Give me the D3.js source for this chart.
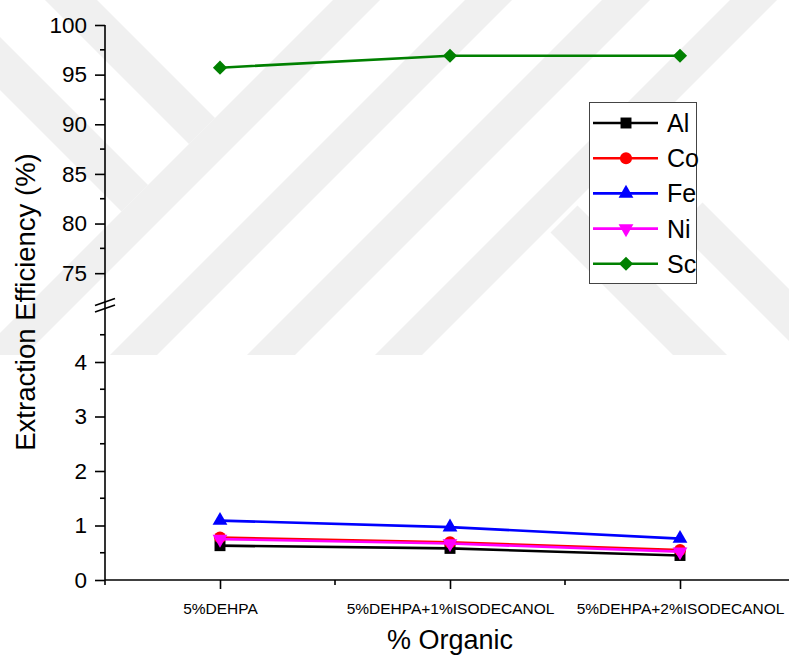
<!DOCTYPE html>
<html>
<head>
<meta charset="utf-8">
<script src="https://cdn.jsdelivr.net/npm/d3@7"></script>
<style>
  html, body { margin: 0; padding: 0; background: #fff; }
  svg { display: block; font-family: Arial, "Liberation Sans", sans-serif; }
</style>
</head>
<body>
<svg id="chart" width="789" height="656"></svg>
<script>
// Extraction efficiency (%) per organic phase composition
const categories = ["5%DEHPA", "5%DEHPA+1%ISODECANOL", "5%DEHPA+2%ISODECANOL"];
const seriesNames = ["Al", "Co", "Fe", "Ni", "Sc"];
const alValues = [0.63, 0.58, 0.45];
const coValues = [0.78, 0.69, 0.55];
const feValues = [1.09, 0.97, 0.76];
const niValues = [0.75, 0.67, 0.52];
const scValues = [95.7, 96.9, 96.9];

const lowTicks = [0, 1, 2, 3, 4];
const highTicks = [75, 80, 85, 90, 95, 100];

const series = [
  { name: seriesNames[0], values: alValues, color: "#000000", symbol: d3.symbolSquare, size: 120, rot: 0, panel: "low" },
  { name: seriesNames[1], values: coValues, color: "#ff0000", symbol: d3.symbolCircle, size: 115, rot: 0, panel: "low" },
  { name: seriesNames[2], values: feValues, color: "#0000ff", symbol: d3.symbolTriangle, size: 95, rot: 0, panel: "low" },
  { name: seriesNames[3], values: niValues, color: "#ff00ff", symbol: d3.symbolTriangle, size: 95, rot: 180, panel: "low" },
  { name: seriesNames[4], values: scValues, color: "#008000", symbol: d3.symbolSquare, size: 100, rot: 45, panel: "high" }
];

const svg = d3.select("#chart");
const W = 789, H = 656;

// faint background emblem made of diagonal bands (u = x + y, v = x - y)
const bands = [
  { u: [333, 380], v: [-2000, 2000] },
  { u: [465, 512], v: [-2000, 2000] },
  { u: [602, 650], v: [-2000, 2000] },
  { u: [730, 777], v: [-2000, 2000] },
  { u: [-2000, 333], v: [45, 97] },
  { u: [-2000, 333], v: [-90, -37] },
  { u: [783, 3000], v: [318, 372] },
  { u: [905, 3000], v: [448, 500] }
];
svg.append("defs").append("clipPath").attr("id", "emblemClip")
  .append("rect").attr("x", 0).attr("y", 0).attr("width", W).attr("height", 355);
const emblem = svg.append("g").attr("clip-path", "url(#emblemClip)");
const uvToXY = (u, v) => [(u + v) / 2, (u - v) / 2];
emblem.selectAll("polygon").data(bands).join("polygon")
  .attr("fill", "#f0f0f0")
  .attr("points", b => [
      uvToXY(b.u[0], b.v[0]), uvToXY(b.u[1], b.v[0]),
      uvToXY(b.u[1], b.v[1]), uvToXY(b.u[0], b.v[1])
    ].map(p => p.join(",")).join(" "));

// scales
const x = d3.scaleLinear().domain([0.5, 3.5]).range([105, 795]);
const yLow = d3.scaleLinear().domain([0, 5]).range([580, 307.5]);
const yHigh = d3.scaleLinear().domain([72.5, 100]).range([298, 25]);
const axisX = 105;

const axisColor = "#000";

// y axis line
svg.append("line").attr("x1", axisX).attr("x2", axisX)
  .attr("y1", yHigh(100)).attr("y2", yLow(0))
  .attr("stroke", axisColor).attr("stroke-width", 1.6);

// y axis ticks, both panels
const highAxis = d3.axisLeft(yHigh).tickValues(highTicks).tickSize(10).tickPadding(8).tickFormat(d3.format("d"));
const gHigh = svg.append("g").attr("transform", `translate(${axisX},0)`).call(highAxis);
const lowAxis = d3.axisLeft(yLow).tickValues(lowTicks).tickSize(10).tickPadding(8).tickFormat(d3.format("d"));
const gLow = svg.append("g").attr("transform", `translate(${axisX},0)`).call(lowAxis);
[gHigh, gLow].forEach(g => {
  g.select(".domain").remove();
  g.selectAll(".tick line").attr("stroke", axisColor).attr("stroke-width", 1.6);
  g.selectAll(".tick text").attr("fill", "#000").style("font-size", "22.5px")
    .style("font-family", "Arial, 'Liberation Sans', sans-serif");
});

// minor ticks
const minorHigh = d3.range(77.5, 100, 5);
const minorLow = d3.range(0.5, 5, 1);
svg.append("g").selectAll("line").data(minorHigh.map(yHigh).concat(minorLow.map(yLow))).join("line")
  .attr("x1", axisX - 5).attr("x2", axisX).attr("y1", d => d).attr("y2", d => d)
  .attr("stroke", axisColor).attr("stroke-width", 1.6);

// axis break marks
const breakMarks = [yHigh(72.5) + 4, yLow(5) + 1];
svg.append("g").selectAll("line").data(breakMarks).join("line")
  .attr("x1", axisX - 10).attr("x2", axisX + 10)
  .attr("y1", d => d + 3.5).attr("y2", d => d - 3.5)
  .attr("stroke", axisColor).attr("stroke-width", 1.6);

// x axis
const yBase = yLow(0);
svg.append("line").attr("x1", axisX).attr("x2", W).attr("y1", yBase).attr("y2", yBase)
  .attr("stroke", axisColor).attr("stroke-width", 1.6);
const xAxis = d3.axisBottom(x).tickValues([1, 2, 3]).tickSize(9).tickPadding(14)
  .tickFormat(d => categories[d - 1]);
const gx = svg.append("g").attr("transform", `translate(0,${yBase})`).call(xAxis);
gx.select(".domain").remove();
gx.selectAll(".tick line").attr("stroke", axisColor).attr("stroke-width", 1.6);
gx.selectAll(".tick text").attr("fill", "#000").style("font-size", "15.5px")
  .style("font-family", "Arial, 'Liberation Sans', sans-serif");
svg.append("g").selectAll("line").data([0.5, 1.5, 2.5, 3.5]).join("line")
  .attr("x1", d => x(d)).attr("x2", d => x(d))
  .attr("y1", yBase).attr("y2", yBase + 5)
  .attr("stroke", axisColor).attr("stroke-width", 1.6);

// axis titles
svg.append("text").attr("x", x(2)).attr("y", 649).attr("text-anchor", "middle")
  .style("font-size", "27px").text("% Organic");
svg.append("text").attr("transform", "translate(35,302) rotate(-90)").attr("text-anchor", "middle")
  .style("font-size", "27.5px").text("Extraction Efficiency (%)");

// series lines and markers
series.forEach(s => {
  const yS = s.panel === "high" ? yHigh : yLow;
  const pts = s.values.map((v, i) => [x(i + 1), yS(v)]);
  svg.append("path").datum(pts)
    .attr("d", d3.line())
    .attr("fill", "none").attr("stroke", s.color).attr("stroke-width", 2.6);
  svg.append("g").selectAll("path").data(pts).join("path")
    .attr("transform", d => `translate(${d[0]},${d[1]}) rotate(${s.rot})`)
    .attr("d", d3.symbol().type(s.symbol).size(s.size))
    .attr("fill", s.color);
});

// legend
const lg = svg.append("g");
lg.append("rect").attr("x", 589.5).attr("y", 102.5).attr("width", 107).attr("height", 181)
  .attr("fill", "#fff").attr("stroke", "#444").attr("stroke-width", 1);
series.forEach((s, i) => {
  const cy = 123 + i * 35.2;
  lg.append("line").attr("x1", 593).attr("x2", 658).attr("y1", cy).attr("y2", cy)
    .attr("stroke", s.color).attr("stroke-width", 2.6);
  lg.append("path").attr("transform", `translate(626,${cy}) rotate(${s.rot})`)
    .attr("d", d3.symbol().type(s.symbol).size(s.size)).attr("fill", s.color);
  lg.append("text").attr("x", 667).attr("y", cy + 9).style("font-size", "25px").text(s.name);
});
</script>
</body>
</html>
